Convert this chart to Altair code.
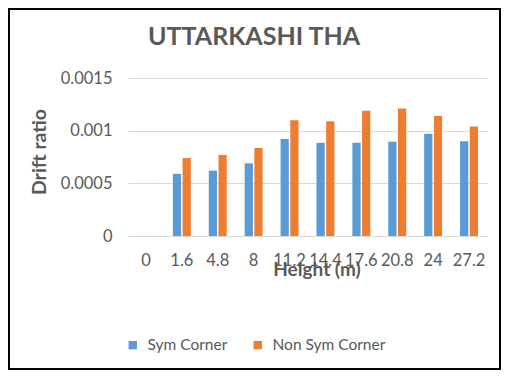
import altair as alt
import pandas as pd

heights = ["0", "1.6", "4.8", "8", "11.2", "14.4", "17.6", "20.8", "24", "27.2"]
sym_corner = [0, 0.00059, 0.00062, 0.00069, 0.00092, 0.000885, 0.000885, 0.000895, 0.00097, 0.0009]
non_sym_corner = [0, 0.00074, 0.00077, 0.000835, 0.0011, 0.00109, 0.00119, 0.00121, 0.00114, 0.00104]
series = ["Sym Corner", "Non Sym Corner"]
colors = ["#5b9bd5", "#ed7d31"]

rows = []
for h, a, b in zip(heights, sym_corner, non_sym_corner):
    rows.append({"Height": h, "Series": series[0], "Value": a})
    rows.append({"Height": h, "Series": series[1], "Value": b})
df = pd.DataFrame(rows)

W, H = 359, 158
FONT = "Lato"
GREY = "#595959"

bars = alt.Chart(df).mark_bar().encode(
    x=alt.X("Height:N", sort=heights,
            scale=alt.Scale(paddingInner=0.5, paddingOuter=0.25),
            axis=alt.Axis(title=None, labelAngle=0, labelFontSize=16.5, labelColor=GREY,
                          labelFont=FONT, labelPadding=16, ticks=False, domain=False, grid=False)),
    xOffset=alt.XOffset("Series:N", sort=series, scale=alt.Scale(paddingInner=0.15)),
    y=alt.Y("Value:Q", scale=alt.Scale(domain=[0, 0.0015]),
            axis=alt.Axis(title=None, values=[0, 0.0005, 0.001, 0.0015], format="~g",
                          labelFontSize=16.5, labelColor=GREY, labelFont=FONT, labelPadding=16,
                          ticks=False, domain=False, gridColor="#d9d9d9", gridWidth=1)),
    color=alt.Color("Series:N", sort=series, scale=alt.Scale(domain=series, range=colors),
                    legend=alt.Legend(title=None, orient="none", direction="horizontal",
                                      legendX=-3, legendY=259, symbolType="square",
                                      symbolSize=70, symbolStrokeWidth=0, labelFontSize=15.5,
                                      labelColor=GREY, labelFont=FONT, labelOffset=7,
                                      columnPadding=22)),
)

title = alt.Chart(pd.DataFrame({"t": ["UTTARKASHI THA"]})).mark_text(
    fontSize=25, fontWeight="bold", font=FONT, color=GREY, baseline="middle", align="center"
).encode(text="t:N", x=alt.value(126), y=alt.value(-41))

xtitle = alt.Chart(pd.DataFrame({"t": ["Height (m)"]})).mark_text(
    fontSize=19, fontWeight="bold", font=FONT, color=GREY, baseline="middle", align="center"
).encode(text="t:N", x=alt.value(189), y=alt.value(H + 34))

ytitle = alt.Chart(pd.DataFrame({"t": ["Drift ratio"]})).mark_text(
    fontSize=19.5, fontWeight="bold", font=FONT, color=GREY, baseline="middle", align="center", angle=270
).encode(text="t:N", x=alt.value(-88), y=alt.value(74))

border = alt.Chart(pd.DataFrame({"a": [0]})).mark_rect(
    fill="transparent", stroke="black", strokeWidth=2
).encode(x=alt.value(-119), x2=alt.value(W + 13), y=alt.value(-69), y2=alt.value(H + 133))

chart = alt.layer(bars, title, xtitle, ytitle, border).properties(
    width=W, height=H,
    autosize=alt.AutoSizeParams(type="none"),
    padding={"left": 120, "top": 70, "right": 14, "bottom": 134},
).configure_view(stroke=None)

chart.save("out.html", embed_options={"renderer": "svg", "actions": False})
